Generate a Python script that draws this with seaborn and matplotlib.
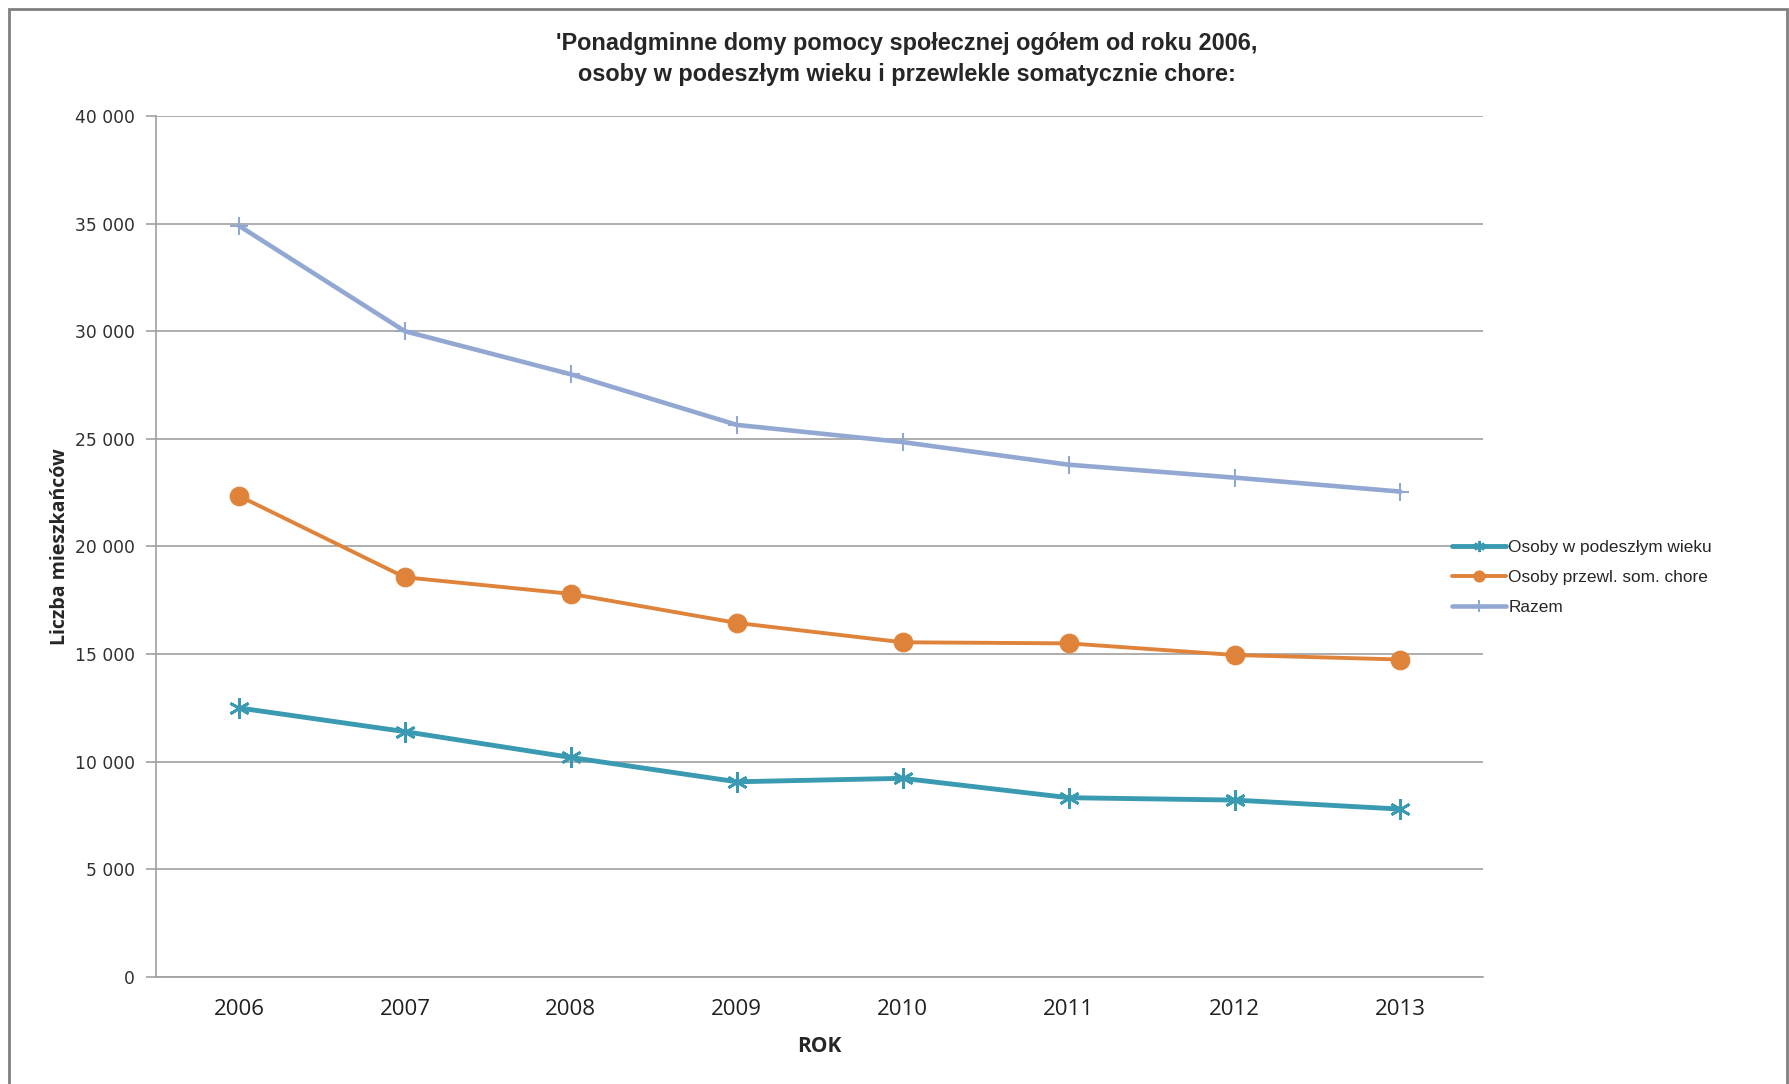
import matplotlib
matplotlib.use("Agg")
import matplotlib.pyplot as plt
from matplotlib.patches import Rectangle
import seaborn as sns
import pandas as pd

years = [2006, 2007, 2008, 2009, 2010, 2011, 2012, 2013]
podeszly = [12500, 11400, 10200, 9070, 9230, 8330, 8220, 7800]
somatyczne = [22350, 18570, 17800, 16450, 15550, 15500, 14960, 14750]
razem = [34900, 30000, 28000, 25650, 24850, 23800, 23200, 22550]

names = ["Osoby w podeszłym wieku", "Osoby przewl. som. chore", "Razem"]
colors = ["#3A9AB1", "#DF833B", "#92A8D2"]

sns.set_style("white")
plt.rcParams["font.family"] = ["DejaVu Sans"]

fig = plt.figure(figsize=(17.89, 10.84), dpi=100)
ax = fig.add_axes([0.0872, 0.0987, 0.742, 0.7943])

df = pd.DataFrame({"rok": years * 3,
                   "val": podeszly + somatyczne + razem,
                   "seria": [names[0]] * 8 + [names[1]] * 8 + [names[2]] * 8})

sns.lineplot(data=df[df.seria == names[0]], x="rok", y="val", ax=ax, color=colors[0],
             lw=3.5, marker=(6, 2, 0), markersize=15, mew=2, mec=colors[0],
             label=names[0])
sns.lineplot(data=df[df.seria == names[1]], x="rok", y="val", ax=ax, color=colors[1],
             lw=2.8, marker="o", markersize=13.5, mec=colors[1],
             label=names[1])
sns.lineplot(data=df[df.seria == names[2]], x="rok", y="val", ax=ax, color=colors[2],
             lw=3.3, marker="+", markersize=13, mew=1.5, mec=colors[2],
             label=names[2])

ax.set_xlim(2005.5, 2013.5)
ax.set_ylim(0, 40000)
ax.set_yticks(range(0, 40001, 5000))
ax.set_yticklabels([f"{v:,}".replace(",", " ") for v in range(0, 40001, 5000)],
                   fontsize=12.3, color="#303030")
ax.set_xticks(years)
ax.set_xticklabels([str(y) for y in years], fontsize=16, family="Open Sans", color="#202020")
ax.set_xticks([y + 0.5 for y in [2005] + years], minor=True)
ax.tick_params(axis="x", which="major", length=0, pad=16)
ax.tick_params(axis="x", which="minor", length=9, color="#A0A0A0", width=1.2)
ax.tick_params(axis="y", length=7, color="#A0A0A0", width=1.2, pad=8, left=True)

ax.grid(axis="y", color="#A0A0A0", lw=1.2)
ax.set_axisbelow(True)
for s in ["top", "right"]:
    ax.spines[s].set_visible(False)
for s in ["left", "bottom"]:
    ax.spines[s].set_color("#A0A0A0")
    ax.spines[s].set_linewidth(1.2)

ax.set_xlabel("ROK", fontsize=15, family="Open Sans", fontweight="bold", labelpad=11)
ax.set_ylabel("Liczba mieszkańców", fontsize=14, family="Open Sans",
              fontweight="bold", labelpad=4)

fig.text(0.507, 0.9458, "'Ponadgminne domy pomocy społecznej ogółem od roku 2006,\n"
         "osoby w podeszłym wieku i przewlekle somatycznie chore:",
         ha="center", va="center", fontsize=16.9, fontweight="bold",
         family="Liberation Sans", linespacing=1.45)

leg = ax.legend(loc="center left", bbox_to_anchor=(0.97, 0.464), frameon=False,
                prop={"family": "Liberation Sans", "size": 12.4}, handlelength=3.1,
                labelspacing=0.85, handletextpad=0.15, borderpad=0)
for h in leg.legend_handles:
    h.set_markersize(8)

fig.patches.append(Rectangle((9 / 1789, -0.1), 1778 / 1789, 1.1 - 9 / 1084, fill=False,
                             ec="#808080", lw=2, transform=fig.transFigure))

fig.savefig("out.png", dpi=100)
